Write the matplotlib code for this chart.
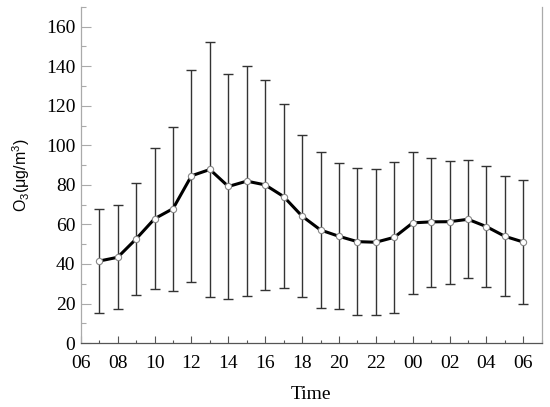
import numpy as np
import matplotlib
matplotlib.use('Agg')
from matplotlib import pyplot as plt
from matplotlib.ticker import MultipleLocator

plt.rcParams['font.family'] = ['Liberation Serif', 'DejaVu Serif']
plt.rcParams['mathtext.fontset'] = 'custom'
plt.rcParams['mathtext.rm'] = 'Liberation Sans'
plt.rcParams['mathtext.it'] = 'Liberation Sans:italic'

# hours after 06:00 (07 ... 06 next day)
hours = list(range(1, 25))
tick_labels = ['06', '08', '10', '12', '14', '16', '18', '20', '22', '00', '02', '04', '06']

# mean O3 and the ends of the error bars
o3_mean = [41.5, 43.4, 52.7, 62.9, 68.0, 84.6, 87.8, 79.2, 81.9, 80.0, 74.1, 64.2,
           57.2, 54.0, 51.3, 51.0, 53.5, 60.8, 61.3, 61.4, 62.6, 58.9, 54.0, 51.1]
o3_upper = [67.7, 69.7, 81.2, 98.6, 109.5, 137.9, 152.4, 136.2, 140.3, 133.2, 120.9, 105.2,
            96.5, 91.3, 88.3, 87.8, 91.6, 96.5, 93.5, 92.3, 92.7, 89.6, 84.7, 82.4]
o3_lower = [15.2, 17.2, 24.1, 27.3, 26.3, 31.0, 23.3, 22.3, 23.6, 26.8, 27.7, 23.3,
            17.7, 17.1, 14.2, 14.0, 15.2, 24.6, 28.5, 30.0, 32.8, 28.5, 23.8, 19.9]

mean = np.array(o3_mean)
yerr = [mean - np.array(o3_lower), np.array(o3_upper) - mean]

fig = plt.figure(figsize=(5.5, 4.07), dpi=100)
ax = fig.add_axes([0.147, 0.157, 0.838, 0.826])

ax.errorbar(hours, mean, yerr=yerr, fmt='none', ecolor='#333333', elinewidth=1.0,
            capsize=3.5, capthick=1.0, zorder=2)
ax.plot(hours, mean, color='black', lw=2.2, zorder=3)
ax.plot(hours, mean, 'o', ms=4.5, mfc='white', mec='#888888', mew=0.8, zorder=4)

ax.set_xlim(0, 25)
ax.set_ylim(0, 170)
ax.set_xticks(range(0, 25, 2))
ax.set_xticklabels(tick_labels)
ax.xaxis.set_minor_locator(MultipleLocator(1))
ax.yaxis.set_major_locator(MultipleLocator(20))
ax.yaxis.set_minor_locator(MultipleLocator(10))

ax.spines['top'].set_visible(False)
ax.spines['bottom'].set_color('#555555')
ax.spines['left'].set_color('#aaaaaa')
ax.spines['right'].set_color('#aaaaaa')
for s in ['left', 'right', 'bottom']:
    ax.spines[s].set_linewidth(0.9)

ax.tick_params(axis='x', which='major', direction='in', length=5, width=0.8,
               labelsize=14, pad=8.5, color='#555555')
ax.tick_params(axis='x', which='minor', direction='in', length=2.5, width=0.8, color='#555555')
ax.tick_params(axis='y', which='major', direction='in', length=7, width=0.8,
               labelsize=14, pad=4, color='#aaaaaa')
ax.tick_params(axis='y', which='minor', direction='in', length=3.5, width=0.8, color='#aaaaaa')

ax.set_xlabel('Time', fontsize=14, labelpad=10)
ax.set_ylabel(r'O$_3$($\mathrm{\mu}$g/m$^3$)', fontsize=11.5, labelpad=10,
              family=['Liberation Sans', 'DejaVu Sans'])

fig.savefig('out.png', dpi=100)
